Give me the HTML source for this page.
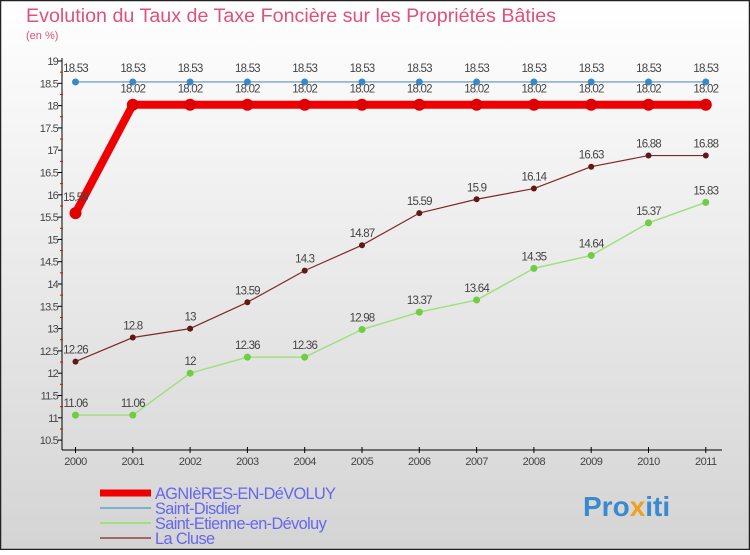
<!DOCTYPE html>
<html><head><meta charset="utf-8"><style>
body{margin:0;width:750px;height:550px;overflow:hidden;font-family:"Liberation Sans",sans-serif}
</style></head><body>
<svg id="chart" width="750" height="550" viewBox="0 0 750 550" xmlns="http://www.w3.org/2000/svg">
<defs><linearGradient id="bg" x1="0" y1="0" x2="0" y2="1"><stop offset="0" stop-color="#ffffff"/><stop offset="1" stop-color="#d4d4d4"/></linearGradient></defs>
<rect x="0.5" y="0.5" width="749" height="549" fill="url(#bg)" stroke="#222" stroke-width="1.5"/>
<text x="26" y="22" font-size="19.7" fill="#e0507a">Evolution du Taux de Taxe Foncière sur les Propriétés Bâties</text>
<text x="26" y="39" font-size="11" fill="#e0507a">(en %)</text>
<g id="axes"></g><g id="series"></g><g id="legend"></g>
<text x="583" y="516" font-size="28" font-weight="bold" fill="#3a8ad0">Pro<tspan fill="#f0a020">x</tspan>iti</text>
</svg>
<script>
const years=[2000,2001,2002,2003,2004,2005,2006,2007,2008,2009,2010,2011];
const yTicks=[10.5,11,11.5,12,12.5,13,13.5,14,14.5,15,15.5,16,16.5,17,17.5,18,18.5,19];
const agnieres=[15.59,18.02,18.02,18.02,18.02,18.02,18.02,18.02,18.02,18.02,18.02,18.02];
const saintDisdier=[18.53,18.53,18.53,18.53,18.53,18.53,18.53,18.53,18.53,18.53,18.53,18.53];
const saintEtienne=[11.06,11.06,12,12.36,12.36,12.98,13.37,13.64,14.35,14.64,15.37,15.83];
const laCluse=[12.26,12.8,13,13.59,14.3,14.87,15.59,15.9,16.14,16.63,16.88,16.88];
const seriesNames=["AGNIèRES-EN-DéVOLUY","Saint-Disdier","Saint-Etienne-en-Dévoluy","La Cluse"];
const NS="http://www.w3.org/2000/svg";
const xS=i=>75.5+i*57.3;
const yS=v=>61+(19-v)/0.5*22.3;
function mk(tag,attrs,parent,txt){const e=document.createElementNS(NS,tag);for(const k in attrs)e.setAttribute(k,attrs[k]);if(txt!==undefined)e.textContent=txt;parent.appendChild(e);return e;}
const axes=document.getElementById('axes');
const ya=mk('line',{x1:62,y1:58,x2:62,y2:450,stroke:'#000','stroke-width':1},axes);


const xa=mk('line',{x1:62,y1:450,x2:722,y2:450,stroke:'#000','stroke-width':1},axes);


yTicks.forEach(v=>{const y=yS(v);
 mk('line',{x1:58,y1:y,x2:62,y2:y,stroke:'#000'},axes);
 if(v>10.5)mk('line',{x1:60,y1:y+11.15,x2:63,y2:y+11.15,stroke:'#e00'},axes);
 const t=mk('text',{x:58,y:y+4,'font-size':11,'text-anchor':'end',fill:'#444','letter-spacing':'-0.8'},axes,String(v));
 
 });
years.forEach((yr,i)=>{const x=xS(i);
 mk('line',{x1:x,y1:447,x2:x,y2:453,stroke:'#000'},axes);
 const t=mk('text',{x:x,y:465,'font-size':11,'text-anchor':'middle',fill:'#444','letter-spacing':'-0.5'},axes,String(yr));
 
 });
const sg=document.getElementById('series');
function draw(vals,color,w,r,name,dot,labOff){
 const g=mk('g',{},sg);
 
 
 mk('polyline',{points:vals.map((v,i)=>xS(i)+','+yS(v)).join(' '),fill:'none',stroke:color,'stroke-width':w,'stroke-linejoin':'round'},g);
 vals.forEach((v,i)=>{
  const c=mk('circle',{cx:xS(i),cy:yS(v),r:r,fill:dot},g);
  
  
  const t=mk('text',{x:xS(i),y:yS(v)+labOff,'font-size':11.5,'text-anchor':'middle',fill:'#444','letter-spacing':'-0.8'},g,String(v));
  
  
 });
}
draw(saintEtienne,'#a0e080',1.5,3.5,'saint-etienne-series','#70cc40',-8);
draw(laCluse,'#802828',1.2,3,'la-cluse-series','#601818',-8);
draw(saintDisdier,'#5a90c0',1.2,3.5,'saint-disdier-series','#3a88c8',-10);
draw(agnieres,'#f00000',8,6,'agnieres-series','#e00000',-12);
const lg=document.getElementById('legend');
const cols=['#f00000','#80b0d0','#a0e080','#a06868'];const ws=[7,2,2,2];
seriesNames.forEach((n,i)=>{const y=493+i*15;
 const g=mk('g',{},lg);
 
 
 mk('line',{x1:100,y1:y,x2:151,y2:y,stroke:cols[i],'stroke-width':ws[i]},g);
 mk('text',{x:155,y:y+6,'font-size':16.3,fill:'#6666ee','letter-spacing':'-0.6'},g,n);});
</script>
</body></html>
